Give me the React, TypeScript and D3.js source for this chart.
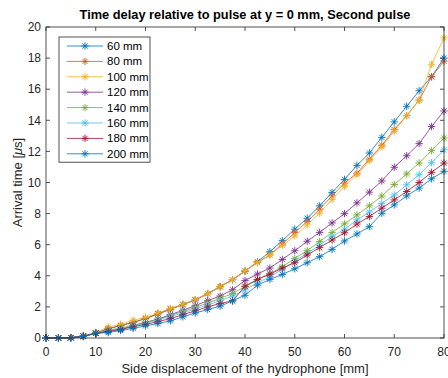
import React from "react";
import * as d3 from "d3";

const xValues = [0, 2.5, 5, 7.5, 10, 12.5, 15, 17.5, 20, 22.5, 25, 27.5, 30, 32.5, 35, 37.5, 40, 42.5, 45, 47.5, 50, 52.5, 55, 57.5, 60, 62.5, 65, 67.5, 70, 72.5, 75, 77.5, 80];

const seriesNames = ["60 mm", "80 mm", "100 mm", "120 mm", "140 mm", "160 mm", "180 mm", "200 mm"];
const seriesColors = ["#0072BD", "#D95319", "#EDB120", "#7E2F8E", "#77AC30", "#4DBEEE", "#A2142F", "#0072BD"];

const s60 = [0, 0, 0.02, 0.1, 0.3, 0.6, 0.8, 1.0, 1.25, 1.55, 1.85, 2.15, 2.45, 2.85, 3.3, 3.75, 4.3, 4.9, 5.55, 6.26, 7.0, 7.7, 8.5, 9.36, 10.2, 11.1, 11.9, 12.9, 13.9, 14.9, 15.9, 16.8, 18.0];
const s80 = [0, 0, 0.02, 0.1, 0.3, 0.6, 0.8, 1.0, 1.25, 1.55, 1.85, 2.15, 2.45, 2.85, 3.3, 3.75, 4.3, 4.85, 5.35, 6.05, 6.78, 7.49, 8.28, 9.14, 9.96, 10.6, 11.5, 12.4, 13.4, 14.3, 15.3, 16.8, 17.8];
const s100 = [0, 0, 0.03, 0.13, 0.35, 0.71, 0.88, 1.14, 1.33, 1.61, 1.9, 2.17, 2.48, 2.86, 3.3, 3.76, 4.32, 4.85, 5.34, 5.95, 6.56, 7.27, 8.03, 8.9, 9.74, 10.5, 11.4, 12.3, 13.3, 14.3, 15.3, 17.6, 19.3];
const s120 = [0, 0, 0.02, 0.13, 0.3, 0.5, 0.55, 0.8, 1.0, 1.22, 1.5, 1.78, 2.08, 2.4, 2.7, 3.1, 3.7, 4.11, 4.5, 5.05, 5.61, 6.22, 6.79, 7.4, 8.0, 8.69, 9.38, 10.1, 10.98, 11.72, 12.5, 13.6, 14.6];
const s140 = [0, 0, 0.02, 0.12, 0.35, 0.5, 0.65, 0.82, 1.0, 1.2, 1.45, 1.7, 1.97, 2.25, 2.55, 2.86, 3.3, 3.75, 4.15, 4.58, 5.12, 5.62, 6.2, 6.78, 7.34, 7.92, 8.5, 9.13, 9.87, 10.55, 11.25, 12.05, 12.86];
const s160 = [0, 0, 0.02, 0.12, 0.3, 0.45, 0.6, 0.78, 0.95, 1.15, 1.38, 1.62, 1.88, 2.12, 2.4, 2.7, 3.1, 3.55, 3.95, 4.42, 4.95, 5.44, 5.98, 6.52, 6.99, 7.59, 8.1, 8.65, 9.2, 9.85, 10.5, 11.27, 12.1];
const s180 = [0, 0, 0.02, 0.12, 0.3, 0.42, 0.55, 0.72, 0.88, 1.05, 1.25, 1.5, 1.75, 2.0, 2.22, 2.39, 3.33, 3.77, 4.1, 4.5, 4.84, 5.34, 5.81, 6.3, 6.77, 7.33, 7.81, 8.35, 8.88, 9.42, 10.0, 10.65, 11.25];
const s200 = [0, 0, 0.02, 0.1, 0.3, 0.35, 0.48, 0.62, 0.78, 0.93, 1.1, 1.36, 1.61, 1.83, 2.05, 2.39, 2.75, 3.4, 3.77, 4.09, 4.45, 4.84, 5.23, 5.7, 6.24, 6.69, 7.16, 8.02, 8.56, 9.14, 9.64, 10.24, 10.72];

const seriesValues = [s60, s80, s100, s120, s140, s160, s180, s200];

const xTicks = [0, 10, 20, 30, 40, 50, 60, 70, 80];
const yTicks = [0, 2, 4, 6, 8, 10, 12, 14, 16, 18, 20];

const titleText = "Time delay relative to pulse at y = 0 mm, Second pulse";
const xLabel = "Side displacement of the hydrophone [mm]";

const W = 448;
const H = 378;
const M = { left: 46, right: 4, top: 27, bottom: 40 };
const FONT = "'Liberation Sans', Arial, Helvetica, sans-serif";
const AX = "#262626";

function Asterisk({ cx, cy, color, r = 3.7 }: { cx: number; cy: number; color: string; r?: number }) {
  const d2 = r * Math.SQRT1_2;
  const d = `M${cx - r},${cy}L${cx + r},${cy}M${cx},${cy - r}L${cx},${cy + r}M${cx - d2},${cy - d2}L${cx + d2},${cy + d2}M${cx - d2},${cy + d2}L${cx + d2},${cy - d2}`;
  return <path d={d} stroke={color} strokeWidth={0.9} fill="none" />;
}

export default function App() {
  const x = d3.scaleLinear().domain([0, 80]).range([M.left, W - M.right]);
  const y = d3.scaleLinear().domain([0, 20]).range([H - M.bottom, M.top]);
  const line = d3
    .line<number>()
    .x((_, i) => x(xValues[i]))
    .y((v) => y(v));

  const x0 = x(0), x1 = x(80), y0 = y(0), y1 = y(20);
  const tickLen = 4;

  const legX = 59, legY = 37, legW = 91, legRow = 15.4;

  return (
    <svg width={W} height={H} style={{ position: "absolute", left: 0, top: 0, background: "#fff" }} fontFamily={FONT}>
      <rect x={0} y={0} width={W} height={H} fill="#fff" />
      {seriesValues.map((vals, si) => (
        <g key={si}>
          <path d={line(vals) || ""} fill="none" stroke={seriesColors[si]} strokeWidth={0.8} />
          {vals.map((v, i) => (
            <Asterisk key={i} cx={x(xValues[i])} cy={y(v)} color={seriesColors[si]} />
          ))}
        </g>
      ))}
      <rect x={x0} y={y1} width={x1 - x0} height={y0 - y1} fill="none" stroke={AX} strokeWidth={0.8} />
      {xTicks.map((t) => (
        <g key={"xt" + t}>
          <line x1={x(t)} x2={x(t)} y1={y0} y2={y0 - tickLen} stroke={AX} strokeWidth={0.8} />
          <line x1={x(t)} x2={x(t)} y1={y1} y2={y1 + tickLen} stroke={AX} strokeWidth={0.8} />
          <text x={x(t)} y={y0 + 18} textAnchor="middle" fontSize={12} fill={AX}>
            {t}
          </text>
        </g>
      ))}
      {yTicks.map((t) => (
        <g key={"yt" + t}>
          <line x1={x0} x2={x0 + tickLen} y1={y(t)} y2={y(t)} stroke={AX} strokeWidth={0.8} />
          <line x1={x1} x2={x1 - tickLen} y1={y(t)} y2={y(t)} stroke={AX} strokeWidth={0.8} />
          <text x={x0 - 5} y={y(t) + 4.2} textAnchor="end" fontSize={12} fill={AX}>
            {t}
          </text>
        </g>
      ))}
      <text x={(x0 + x1) / 2} y={19} textAnchor="middle" fontSize={12.8} fontWeight="bold" fill="#000">
        {titleText}
      </text>
      <text x={(x0 + x1) / 2} y={H - 5} textAnchor="middle" fontSize={13} fill={AX}>
        {xLabel}
      </text>
      <text transform={`translate(22,${(y0 + y1) / 2}) rotate(-90)`} textAnchor="middle" fontSize={13} fill={AX}>
        Arrival time [<tspan fontStyle="italic">μ</tspan>s]
      </text>
      <rect x={legX} y={legY} width={legW} height={legRow * 8 + 2} fill="#fff" stroke={AX} strokeWidth={0.8} />
      {seriesNames.map((n, i) => {
        const cy = legY + 9 + i * legRow;
        return (
          <g key={n}>
            <line x1={legX + 8} x2={legX + 44} y1={cy} y2={cy} stroke={seriesColors[i]} strokeWidth={0.8} />
            <Asterisk cx={legX + 26} cy={cy} color={seriesColors[i]} />
            <text x={legX + 48} y={cy + 4} fontSize={11.5} fill="#000">
              {n}
            </text>
          </g>
        );
      })}
    </svg>
  );
}
